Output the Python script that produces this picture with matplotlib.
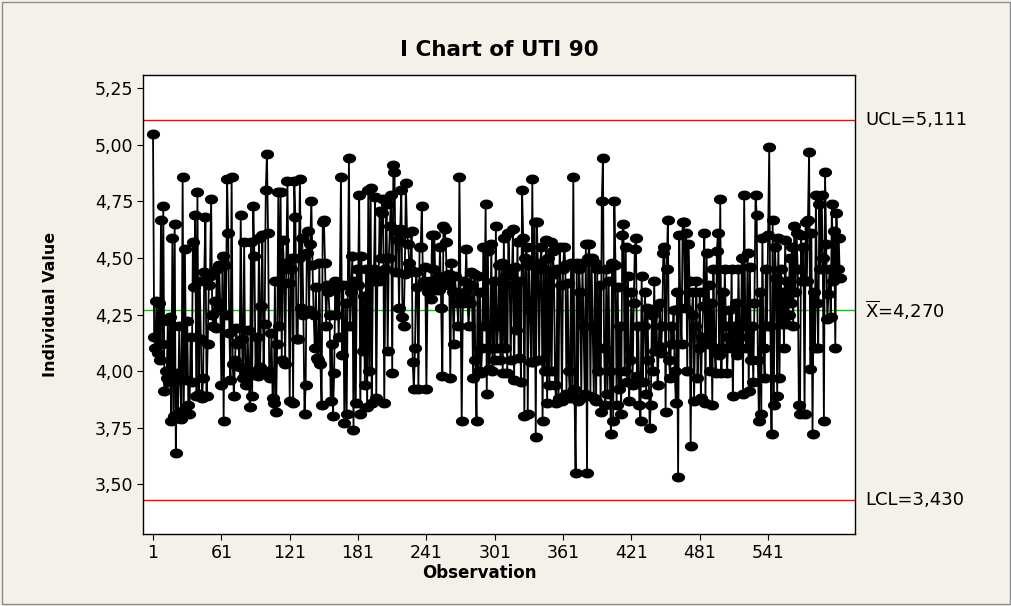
import matplotlib
matplotlib.use("Agg")
import matplotlib.pyplot as plt
import numpy as np
from matplotlib.path import Path
from matplotlib.ticker import FuncFormatter
from matplotlib.patches import Rectangle

title = "I Chart of UTI 90"
x_label = "Observation"
y_label = "Individual Value"
ucl = 5.111
center = 4.270
lcl = 3.430
x_ticks = [1, 61, 121, 181, 241, 301, 361, 421, 481, 541]
y_ticks = [3.50, 3.75, 4.00, 4.25, 4.50, 4.75, 5.00, 5.25]

values = [
    5.05, 4.15, 4.10, 4.31, 4.08, 4.30, 4.05, 4.67, 4.12, 4.73,
    3.91, 4.00, 3.97, 4.22, 3.95, 4.24, 3.78, 4.59, 3.80, 4.65,
    3.64, 3.99, 3.81, 4.20, 3.96, 3.79, 4.86, 3.83, 4.54, 3.96,
    4.22, 3.85, 3.81, 4.15, 3.95, 4.57, 4.37, 4.69, 3.89, 4.79,
    3.90, 4.40, 4.14, 3.88, 3.97, 4.44, 4.68, 3.89, 4.12, 4.38,
    4.42, 4.76, 4.25, 4.20, 4.31, 4.19, 4.45, 4.27, 4.47, 4.30,
    3.94, 4.51, 3.78, 4.47, 4.25, 4.85, 4.61, 4.17, 3.96, 4.86,
    4.03, 3.89, 4.05, 4.19, 4.12, 4.13, 4.02, 4.69, 4.14, 3.97,
    4.57, 3.99, 3.94, 4.18, 3.98, 3.84, 4.57, 3.89, 4.73, 4.51,
    4.00, 4.15, 3.98, 4.59, 4.02, 4.29, 4.60, 4.00, 4.21, 4.80,
    4.96, 4.61, 4.00, 3.97, 4.17, 3.88, 3.86, 4.40, 3.82, 4.12,
    4.79, 4.20, 4.79, 4.05, 4.58, 4.45, 4.03, 4.48, 4.84, 4.39,
    3.87, 4.45, 4.50, 3.86, 4.84, 4.68, 4.14, 4.14, 4.50, 4.85,
    4.28, 4.59, 4.25, 3.81, 3.94, 4.52, 4.62, 4.27, 4.56, 4.75,
    4.47, 4.25, 4.10, 4.37, 4.06, 4.05, 4.48, 4.03, 3.85, 4.66,
    4.67, 4.48, 4.20, 4.38, 4.35, 4.25, 3.87, 4.12, 3.80, 3.99,
    4.40, 4.25, 4.37, 4.15, 4.38, 4.86, 4.07, 4.38, 3.77, 4.30,
    3.81, 4.38, 4.94, 4.20, 4.35, 4.51, 3.74, 4.40, 3.86, 4.45,
    4.38, 4.78, 3.81, 4.51, 4.09, 4.33, 3.94, 4.45, 3.84, 4.80,
    4.00, 4.81, 3.86, 4.40, 4.45, 4.77, 3.88, 4.43, 4.40, 4.71,
    4.50, 4.70, 4.76, 3.86, 4.45, 4.74, 4.09, 4.50, 4.64, 4.78,
    3.99, 4.91, 4.88, 4.44, 4.62, 4.58, 4.28, 4.63, 4.80, 4.24,
    4.20, 4.43, 4.83, 4.61, 4.56, 4.48, 4.45, 4.62, 4.04, 3.92,
    4.10, 4.44, 4.37, 3.92, 4.55, 4.55, 4.73, 4.38, 4.40, 4.46,
    3.92, 4.35, 4.38, 4.40, 4.32, 4.60, 4.45, 4.60, 4.36, 4.38,
    4.42, 4.36, 4.55, 4.28, 3.98, 4.64, 4.63, 4.57, 4.40, 4.38,
    4.43, 3.97, 4.48, 4.35, 4.12, 4.42, 4.35, 4.30, 4.20, 4.86,
    4.33, 3.78, 4.30, 4.40, 4.35, 4.54, 4.32, 4.20, 4.30, 4.44,
    4.38, 3.97, 4.43, 4.05, 3.78, 4.42, 4.00, 4.35, 3.99, 4.10,
    4.55, 4.20, 4.74, 3.90, 4.53, 4.01, 4.10, 4.56, 4.00, 4.40,
    4.05, 4.64, 4.10, 4.20, 4.47, 4.05, 4.48, 3.99, 4.59, 4.10,
    4.42, 3.99, 4.61, 4.45, 4.05, 4.38, 4.63, 3.96, 4.46, 4.18,
    4.57, 4.06, 4.40, 3.95, 4.80, 4.59, 3.80, 4.50, 4.55, 3.81,
    4.47, 4.27, 4.04, 4.85, 4.04, 4.66, 3.71, 4.66, 4.45, 4.05,
    4.48, 4.55, 3.78, 4.45, 4.00, 4.58, 3.86, 4.50, 3.94, 4.57,
    4.00, 4.53, 4.43, 3.94, 3.86, 4.45, 3.88, 4.55, 4.38, 3.87,
    4.45, 4.55, 4.47, 3.90, 4.39, 4.00, 3.88, 4.48, 3.89, 4.86,
    3.92, 3.55, 4.48, 3.87, 4.45, 4.35, 3.88, 4.48, 4.20, 3.90,
    4.56, 3.55, 4.50, 4.56, 3.89, 4.50, 4.20, 3.88, 4.48, 3.87,
    4.45, 4.00, 4.38, 3.82, 4.75, 4.94, 4.10, 3.85, 4.45, 3.90,
    4.40, 4.00, 3.72, 4.48, 3.78, 4.75, 4.47, 3.85, 4.37, 3.92,
    4.20, 3.81, 4.60, 4.65, 4.00, 4.55, 3.95, 4.42, 3.87, 4.05,
    4.35, 3.94, 4.30, 4.54, 4.59, 3.98, 4.20, 3.85, 3.78, 4.42,
    3.95, 4.20, 4.35, 3.90, 4.28, 4.05, 3.75, 3.85, 4.25, 4.00,
    4.40, 4.09, 4.28, 3.94, 4.11, 4.30, 4.08, 4.20, 4.52, 4.55,
    3.82, 4.45, 4.67, 4.05, 3.97, 4.20, 4.12, 4.27, 4.00, 3.86,
    4.35, 3.53, 4.60, 4.28, 4.12, 4.66, 4.66, 4.28, 4.61, 4.00,
    4.56, 4.40, 3.67, 4.25, 4.35, 3.87, 4.20, 4.40, 3.97, 4.10,
    4.35, 3.88, 4.15, 4.29, 4.61, 3.86, 4.52, 4.12, 4.38, 4.00,
    4.30, 3.85, 4.45, 4.10, 3.99, 4.53, 4.61, 4.07, 4.76, 3.99,
    4.35, 4.10, 4.45, 4.20, 3.99, 4.15, 4.27, 4.10, 4.45, 3.89,
    4.20, 4.12, 4.30, 4.07, 4.45, 4.15, 4.10, 4.50, 3.90, 4.78,
    4.20, 4.10, 4.52, 3.91, 4.46, 4.05, 4.20, 3.95, 4.30, 4.78,
    4.69, 4.05, 3.78, 4.35, 3.81, 4.59, 4.10, 3.97, 4.45, 4.20,
    4.60, 4.99, 4.20, 3.72, 4.67, 3.85, 4.55, 4.41, 3.89, 4.59,
    3.97, 4.45, 4.21, 4.35, 4.10, 4.58, 4.21, 4.40, 4.25, 4.50,
    4.30, 4.55, 4.20, 4.64, 4.35, 4.61, 4.45, 3.85, 3.81, 4.60,
    4.40, 4.55, 3.81, 4.66, 4.40, 4.67, 4.97, 4.01, 4.61, 3.72,
    4.35, 4.10, 4.78, 4.30, 4.10, 4.74, 4.45, 4.78, 4.50, 3.78,
    4.88, 4.56, 4.23, 4.34, 4.45, 4.24, 4.74, 4.40, 4.62, 4.10,
    4.70, 4.45, 4.59, 4.41,
]

obs = np.arange(1, len(values) + 1)

fig = plt.figure(figsize=(10.12, 6.06), dpi=100)
fig.patch.set_facecolor("#f3f1ea")
fig.patches.append(Rectangle((0.002, 0.003), 0.996, 0.994, transform=fig.transFigure,
                             fill=False, edgecolor="#8c8c8c", lw=1.0))
ax = fig.add_axes([143/1012, 1 - 534/606, (855-143)/1012, (534-75)/606])
ax.set_facecolor("white")

# ellipse marker
t = np.linspace(0, 2*np.pi, 40)
ell = Path(np.column_stack([np.cos(t), 0.72*np.sin(t)]), closed=True)

ax.plot(obs, values, color="black", lw=1.3, marker=ell, markersize=8.5,
        markerfacecolor="black", markeredgecolor="black", zorder=3)

ax.axhline(ucl, color="#ff0000", lw=1.0, zorder=2)
ax.axhline(lcl, color="#ff0000", lw=1.0, zorder=2)
ax.axhline(center, color="#00cc00", lw=1.0, zorder=2)

ax.set_xlim(-7.8, 617.3)
ax.set_ylim(3.280, 5.309)
ax.set_xticks(x_ticks)
ax.set_yticks(y_ticks)
ax.yaxis.set_major_formatter(FuncFormatter(lambda v, p: f"{v:.2f}".replace(".", ",")))
ax.tick_params(direction="out", length=4, pad=3, labelsize=12.5, colors="black")
for s in ax.spines.values():
    s.set_color("black")
    s.set_linewidth(1.0)

ax.set_title(title, fontsize=15.5, fontweight="bold", pad=14)
ax.set_xlabel(x_label, fontsize=12, fontweight="bold", labelpad=2)
ax.xaxis.set_label_coords(0.473, -0.065)
ax.set_ylabel(y_label, fontsize=11.5, fontweight="bold")
ax.yaxis.set_label_coords(-0.12, 0.5)

tr = ax.get_yaxis_transform()
ax.text(1.014, ucl, "UCL=" + f"{ucl:.3f}".replace(".", ","), transform=tr,
        va="center", ha="left", fontsize=13, clip_on=False)
ax.text(1.014, center, r"$\overline{\mathrm{X}}$=" + f"{center:.3f}".replace(".", ","), transform=tr,
        va="center", ha="left", fontsize=13, clip_on=False)
ax.text(1.014, lcl, "LCL=" + f"{lcl:.3f}".replace(".", ","), transform=tr,
        va="center", ha="left", fontsize=13, clip_on=False)

fig.savefig("out.png", dpi=100, facecolor=fig.get_facecolor())
